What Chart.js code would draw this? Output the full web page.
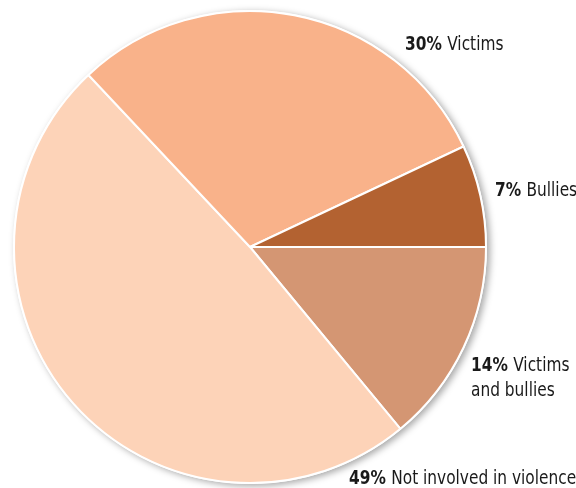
<!DOCTYPE html>
<html>
<head>
<meta charset="utf-8">
<script src="https://cdn.jsdelivr.net/npm/chart.js@4/dist/chart.umd.min.js"></script>
<style>
  html, body { margin: 0; padding: 0; background: #fff; }
  #wrap { width: 576px; height: 488px; }
</style>
</head>
<body>
<div id="wrap"><canvas id="Pie" width="576" height="488"></canvas></div>
<script>
// slices go clockwise from 3 o'clock
var categories = ['Victims and bullies', 'Not involved in violence', 'Victims', 'Bullies'];
var shares = [14, 49, 30, 7];
var colours = ['#d49673', '#fdd3b8', '#f9b28a', '#b36231'];
// label lines shown next to each slice (first line gets the bold percentage)
var labelLines = [['Victims', 'and bullies'], ['Not involved in violence'], ['Victims'], ['Bullies']];
var labelPos = [{x: 471, y: 366}, {x: 349, y: 479}, {x: 405, y: 45}, {x: 495, y: 191}];

var FONT = '"DejaVu Sans Condensed", "DejaVu Sans", sans-serif';
var SQUEEZE = 0.9; // narrow the text a little

var shadow = {
  id: 'pieShadow',
  beforeDatasetsDraw: function(chart) {
    var arc = chart.getDatasetMeta(0).data[0];
    if (!arc) return;
    var c = chart.ctx;
    c.save();
    c.shadowColor = 'rgba(0,0,0,0.35)';
    c.shadowBlur = 7;
    c.shadowOffsetX = 3;
    c.shadowOffsetY = 2;
    c.fillStyle = '#fff';
    c.beginPath();
    c.arc(arc.x, arc.y, arc.outerRadius + 1, 0, Math.PI * 2);
    c.fill();
    c.restore();
  }
};

var labels = {
  id: 'sliceLabels',
  afterDraw: function(chart) {
    var c = chart.ctx;
    c.save();
    c.fillStyle = '#1a1a1a';
    c.textBaseline = 'middle';
    c.textAlign = 'left';
    for (var i = 0; i < shares.length; i++) {
      var p = labelPos[i];
      var pct = shares[i] + '%';
      c.save();
      c.translate(p.x, p.y);
      c.scale(SQUEEZE, 1);
      c.font = 'bold 19px ' + FONT;
      c.fillText(pct, 0, 0);
      var w = c.measureText(pct).width + 6;
      c.font = '19px ' + FONT;
      var lines = labelLines[i];
      c.fillText(lines[0], w, 0);
      for (var j = 1; j < lines.length; j++) {
        c.fillText(lines[j], 0, 25 * j);
      }
      c.restore();
    }
    c.restore();
  }
};

new Chart(document.getElementById('Pie').getContext('2d'), {
  type: 'pie',
  data: {
    labels: categories,
    datasets: [{
      data: shares,
      backgroundColor: colours,
      borderColor: '#ffffff',
      borderWidth: 2
    }]
  },
  options: {
    responsive: false,
    animation: false,
    rotation: 90,
    layout: { padding: { left: 13, top: 10, right: 89, bottom: 4 } },
    plugins: {
      legend: { display: false },
      tooltip: { enabled: false }
    }
  },
  plugins: [shadow, labels]
});
</script>
</body>
</html>
